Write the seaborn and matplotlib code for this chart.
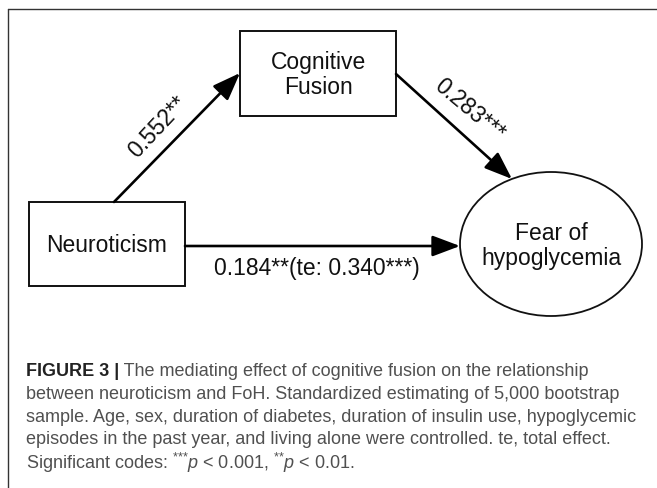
import numpy as np
import matplotlib.pyplot as plt
import seaborn as sns
from matplotlib.patches import Rectangle, Ellipse, FancyArrowPatch

# path model: nodes and standardized coefficients
nodes = ["Cognitive\nFusion", "Neuroticism", "Fear of\nhypoglycemia"]
node_shapes = ["box", "box", "ellipse"]
path_from = ["Neuroticism", "Cognitive\nFusion", "Neuroticism"]
path_to = ["Cognitive\nFusion", "Fear of\nhypoglycemia", "Fear of\nhypoglycemia"]
path_labels = ["0.552**", "0.283***", "0.184**(te: 0.340***)"]

caption_head = "FIGURE 3 |"
caption_lines = [
    " The mediating effect of cognitive fusion on the relationship",
    "between neuroticism and FoH. Standardized estimating of 5,000 bootstrap",
    "sample. Age, sex, duration of diabetes, duration of insulin use, hypoglycemic",
    "episodes in the past year, and living alone were controlled. te, total effect.",
    r"Significant codes: $^{\text{***}}\mathit{p}$ < 0.001, $^{\text{**}}\mathit{p}$ < 0.01.",
]

# layout (pixel space of the figure)
node_pos = {
    "Cognitive\nFusion": (318, 74, 156, 85),
    "Neuroticism": (107, 245, 156, 84),
    "Fear of\nhypoglycemia": (551, 245, 182, 144),
}
arrow_pts = [((114, 203), (240, 74)), ((396, 75), (512, 180)), ((185, 247), (460, 247))]
label_pos = [(158, 127, 47), (469, 110, -40), (317, 268, 0)]

sns.set_theme(style="white")
plt.rcParams['font.family'] = ['Liberation Sans', 'DejaVu Sans']
plt.rcParams['mathtext.fontset'] = 'custom'
plt.rcParams['mathtext.rm'] = 'Liberation Sans'
plt.rcParams['mathtext.it'] = 'Liberation Sans:italic'
plt.rcParams['mathtext.bf'] = 'Liberation Sans:bold'

fig = plt.figure(figsize=(6.57, 4.89), dpi=100)
ax = fig.add_axes([0, 0, 1, 1])
ax.set_xlim(0, 657)
ax.set_ylim(489, 0)
ax.axis('off')

# outer frame (top and left)
ax.plot([8, 657], [10, 10], color='#333333', lw=1)
ax.plot([8, 8], [10, 489], color='#333333', lw=1)

for name, shape in zip(nodes, node_shapes):
    cx, cy, w, h = node_pos[name]
    if shape == "box":
        patch = Rectangle((cx - w / 2, cy - h / 2), w, h, fill=False,
                          edgecolor='#111111', lw=1.4)
    else:
        patch = Ellipse((cx, cy), w, h, fill=False, edgecolor='#111111', lw=1.3)
    ax.add_patch(patch)
    ax.text(cx, cy + 1, name, ha='center', va='center', fontsize=16.5,
            linespacing=1.12, color='#111111')

for (p0, p1), lab, (lx, ly, rot) in zip(arrow_pts, path_labels, label_pos):
    arr = FancyArrowPatch(p0, p1, arrowstyle="-|>,head_length=0.85,head_width=0.32",
                          mutation_scale=20, shrinkA=0, shrinkB=0,
                          color='black', lw=1.9)
    ax.add_patch(arr)
    ax.text(lx, ly, lab, ha='center', va='center', fontsize=16.5,
            rotation=rot, rotation_mode='anchor', color='#111111')

# caption
cap_y = [371.7, 394.4, 417.1, 439.8, 462.5]
cap_size = 13
head = ax.text(26, cap_y[0], caption_head, ha='left', va='center',
               fontsize=cap_size, fontweight='bold', color='#222222')
fig.canvas.draw()
bb = head.get_window_extent().transformed(ax.transData.inverted())
ax.text(bb.x1, cap_y[0], caption_lines[0], ha='left', va='center',
        fontsize=cap_size, color='#505050')
for y, line in zip(cap_y[1:], caption_lines[1:]):
    ax.text(26, y, line, ha='left', va='center', fontsize=cap_size, color='#505050')

fig.savefig("out.png", dpi=100)
